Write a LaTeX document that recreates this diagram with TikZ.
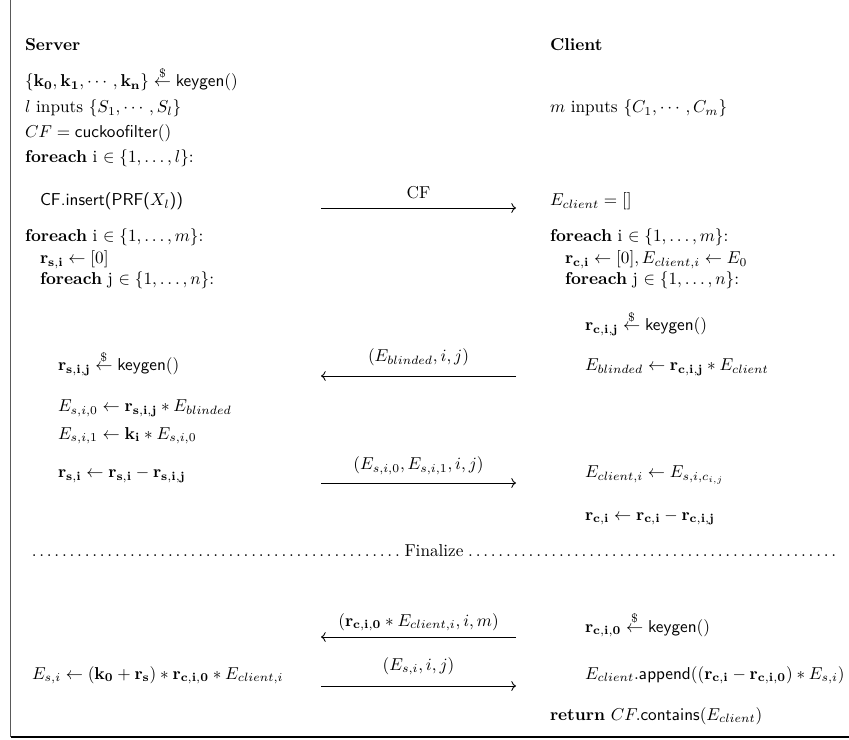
\documentclass[tikz,border=0pt]{standalone}
\usepackage{amsmath,amssymb}
\usetikzlibrary{arrows.meta}
% sampling arrow: x <-$- D
\newcommand{\sampleto}{\mathrel{\overset{\$}{\leftarrow}}}
\begin{document}
\begin{tikzpicture}[x=0.5814pt,y=-0.5814pt,
  txt/.style={anchor=base west,inner sep=0pt,outer sep=0pt},
  lbl/.style={anchor=base,inner sep=0pt,outer sep=0pt},
  msg/.style={->,line width=0.5pt},
  frame/.style={line width=1pt}]
\useasboundingbox (0,0) rectangle (849,740);

% open frame: left rule and bottom rule
\coordinate (ftop) at (10.5,0);
\coordinate (fcorner) at (10.5,737);
\coordinate (fend) at (849,737);
\draw[frame,black!65] (ftop) -- (fcorner);
\draw[frame] (fcorner) -- (fend);

% ---------------- server side ----------------
\node[txt] (s0) at (25,51) {\textbf{Server}};
\node[txt] (s1) at (25,87) {$\{\mathbf{k_0},\mathbf{k_1},\cdots,\mathbf{k_n}\}\sampleto\mathsf{keygen}()$};
\node[txt] (s2) at (25,113) {$l$ inputs $\{S_1,\cdots,S_l\}$};
\node[txt] (s3) at (25,138) {$CF=\mathsf{cuckoofilter}()$};
\node[txt] (s4) at (25,163) {\textbf{foreach} i $\in\{1,\ldots,l\}$:};
\node[txt] (s5) at (40,206) {\textsf{CF.insert(PRF(}$X_l$\textsf{))}};
\node[txt] (s6) at (25,242) {\textbf{foreach} i $\in\{1,\ldots,m\}$:};
\node[txt] (s7) at (40,264) {$\mathbf{r_{s,i}}\leftarrow[0]$};
\node[txt] (s8) at (40,285) {\textbf{foreach} j $\in\{1,\ldots,n\}$:};
\node[txt] (s9) at (58,371) {$\mathbf{r_{s,i,j}}\sampleto\mathsf{keygen}()$};
\node[txt] (s10) at (58,412) {$E_{s,i,0}\leftarrow\mathbf{r_{s,i,j}}*E_{blinded}$};
\node[txt] (s11) at (58,439) {$E_{s,i,1}\leftarrow\mathbf{k_i}*E_{s,i,0}$};
\node[txt] (s12) at (58,478) {$\mathbf{r_{s,i}}\leftarrow\mathbf{r_{s,i}}-\mathbf{r_{s,i,j}}$};
\node[txt] (s13) at (32,679) {$E_{s,i}\leftarrow(\mathbf{k_0}+\mathbf{r_s})*\mathbf{r_{c,i,0}}*E_{client,i}$};

% ---------------- client side ----------------
\node[txt] (c0) at (550,51) {\textbf{Client}};
\node[txt] (c1) at (550,113) {$m$ inputs $\{C_1,\cdots,C_m\}$};
\node[txt] (c2) at (550,206) {$E_{client}=[]$};
\node[txt] (c3) at (550,242) {\textbf{foreach} i $\in\{1,\ldots,m\}$:};
\node[txt] (c4) at (565,264) {$\mathbf{r_{c,i}}\leftarrow[0],E_{client,i}\leftarrow E_0$};
\node[txt] (c5) at (565,285) {\textbf{foreach} j $\in\{1,\ldots,n\}$:};
\node[txt] (c6) at (585,331) {$\mathbf{r_{c,i,j}}\sampleto\mathsf{keygen}()$};
\node[txt] (c7) at (585,371) {$E_{blinded}\leftarrow\mathbf{r_{c,i,j}}*E_{client}$};
\node[txt] (c8) at (585,478) {$E_{client,i}\leftarrow E_{s,i,c_{i,j}}$};
\node[txt] (c9) at (585,520) {$\mathbf{r_{c,i}}\leftarrow\mathbf{r_{c,i}}-\mathbf{r_{c,i,j}}$};
\node[txt] (c10) at (585,632) {$\mathbf{r_{c,i,0}}\sampleto\mathsf{keygen}()$};
\node[txt] (c11) at (585,679) {$E_{client}.\mathsf{append}((\mathbf{r_{c,i}}-\mathbf{r_{c,i,0}})*E_{s,i})$};
\node[txt] (c12) at (550,720) {\textbf{return} $CF.\mathsf{contains}(E_{client})$};

% ---------------- phase separator ----------------
\node[txt] (fin) at (30,556) {\makebox[469.8pt]{\dotfill\,Finalize\,\dotfill}};

% ---------------- messages ----------------
\coordinate (m1s) at (321,208); \coordinate (m1c) at (516,208);
\coordinate (m2s) at (321,376); \coordinate (m2c) at (516,376);
\coordinate (m3s) at (321,483); \coordinate (m3c) at (516,483);
\coordinate (m4s) at (321,637); \coordinate (m4c) at (516,637);
\coordinate (m5s) at (321,686); \coordinate (m5c) at (516,686);

\draw[msg] (m1s) -- (m1c);
\draw[msg] (m2c) -- (m2s);
\draw[msg] (m3s) -- (m3c);
\draw[msg] (m4c) -- (m4s);
\draw[msg] (m5s) -- (m5c);

\node[lbl] (l1) at (418.5,199) {CF};
\node[lbl] (l2) at (418.5,362) {$(E_{blinded},i,j)$};
\node[lbl] (l3) at (418.5,470) {$(E_{s,i,0},E_{s,i,1},i,j)$};
\node[lbl] (l4) at (418.5,626) {$(\mathbf{r_{c,i,0}}*E_{client,i},i,m)$};
\node[lbl] (l5) at (418.5,670) {$(E_{s,i},i,j)$};
\end{tikzpicture}
\end{document}
